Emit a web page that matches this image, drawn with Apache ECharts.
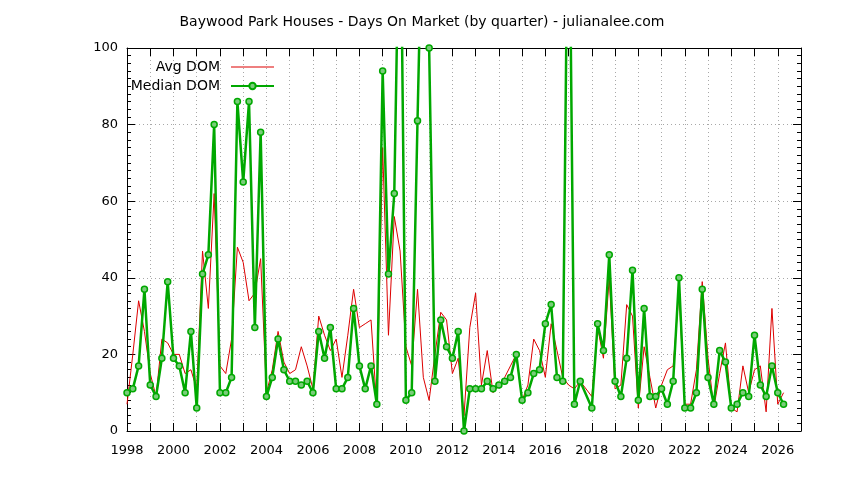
<!DOCTYPE html>
<html>
<head>
<meta charset="utf-8">
<script src="https://cdn.jsdelivr.net/npm/echarts@6/dist/echarts.min.js"></script>
<style>html,body{margin:0;padding:0;background:#fff}#c{width:844px;height:480px}</style>
</head>
<body>
<div id="c"></div>
<script>
const titleText = 'Baywood Park Houses - Days On Market (by quarter) - julianalee.com';
const seriesNames = ['Avg DOM', 'Median DOM'];
const yTicks = [0, 20, 40, 60, 80, 100];
const xTickYears = [1998, 2000, 2002, 2004, 2006, 2008, 2010, 2012, 2014, 2016, 2018, 2020, 2022, 2024, 2026];

const quarters = [
'1998-Q1','1998-Q2','1998-Q3','1998-Q4',
'1999-Q1','1999-Q2','1999-Q3','1999-Q4',
'2000-Q1','2000-Q2','2000-Q3','2000-Q4',
'2001-Q1','2001-Q2','2001-Q3','2001-Q4',
'2002-Q1','2002-Q2','2002-Q3','2002-Q4',
'2003-Q1','2003-Q2','2003-Q3','2003-Q4',
'2004-Q1','2004-Q2','2004-Q3','2004-Q4',
'2005-Q1','2005-Q2','2005-Q3','2005-Q4',
'2006-Q1','2006-Q2','2006-Q3','2006-Q4',
'2007-Q1','2007-Q2','2007-Q3','2007-Q4',
'2008-Q1','2008-Q2','2008-Q3','2008-Q4',
'2009-Q1','2009-Q2','2009-Q3','2009-Q4',
'2010-Q1','2010-Q2','2010-Q3','2010-Q4',
'2011-Q1','2011-Q2','2011-Q3','2011-Q4',
'2012-Q1','2012-Q2','2012-Q3','2012-Q4',
'2013-Q1','2013-Q2','2013-Q3','2013-Q4',
'2014-Q1','2014-Q2','2014-Q3','2014-Q4',
'2015-Q1','2015-Q2','2015-Q3','2015-Q4',
'2016-Q1','2016-Q2','2016-Q3','2016-Q4',
'2017-Q1','2017-Q2','2017-Q3',
'2018-Q1','2018-Q2','2018-Q3','2018-Q4',
'2019-Q1','2019-Q2','2019-Q3','2019-Q4',
'2020-Q1','2020-Q2','2020-Q3','2020-Q4',
'2021-Q1','2021-Q2','2021-Q3','2021-Q4',
'2022-Q1','2022-Q2','2022-Q3','2022-Q4',
'2023-Q1','2023-Q2','2023-Q3','2023-Q4',
'2024-Q1','2024-Q2','2024-Q3','2024-Q4',
'2025-Q1','2025-Q2','2025-Q3','2025-Q4',
'2026-Q1','2026-Q2'
];

const avgDom = [
7, 20, 34, 26,
15, 9, 24, 23,
20, 20, 15, 16,
11, 47, 32, 62,
17, 15, 24, 48,
44, 34, 36, 45,
10, 16, 26, 18,
15, 16, 22, 17,
11, 30, 25, 21,
24, 14, 25, 37,
27, 28, 29, 6,
74, 25, 56, 47,
22, 17, 37, 14,
8, 20, 31, 29,
15, 19, 4, 27,
36, 12, 21, 10,
12, 14, 17, 20,
8, 12, 24, 21,
14, 28, 21, 14,
12, 11, 13,
9, 27, 19, 40,
11, 12, 33, 30,
6, 22, 14, 6,
12, 16, 17, 36,
7, 7, 16, 39,
19, 6, 15, 23,
6, 5, 17, 10,
16, 17, 5, 32,
7, 10
];

const medianDom = [
10, 11, 17, 37,
12, 9, 19, 39,
19, 17, 10, 26,
6, 41, 46, 80,
10, 10, 14, 86,
65, 86, 27, 78,
9, 14, 24, 16,
13, 13, 12, 13,
10, 26, 19, 27,
11, 11, 14, 32,
17, 11, 17, 7,
94, 41, 62, 150,
8, 10, 81, 150,
100, 13, 29, 22,
19, 26, 0, 11,
11, 11, 13, 11,
12, 13, 14, 20,
8, 10, 15, 16,
28, 33, 14, 13,
160, 7, 13,
6, 28, 21, 46,
13, 9, 19, 42,
8, 32, 9, 9,
11, 7, 13, 40,
6, 6, 10, 37,
14, 7, 21, 18,
6, 7, 10, 9,
25, 12, 9, 17,
10, 7
];

function qToYear(q) {
  const parts = q.split('-Q');
  return Number(parts[0]) + (Number(parts[1]) - 1) / 4;
}
const xs = quarters.map(qToYear);
const avgData = xs.map((x, i) => [x, avgDom[i]]);
const medData = xs.map((x, i) => [x, medianDom[i]]);

const FONT = 'DejaVu Sans';
const RED = '#dd0000';
const GREEN = '#00a800';
const chart = echarts.init(document.getElementById('c'), null, {renderer: 'canvas'});
chart.setOption({
  animation: false,
  backgroundColor: '#ffffff',
  title: {
    text: titleText,
    left: 'center',
    top: 10,
    textStyle: {fontFamily: FONT, fontSize: 14, fontWeight: 'normal', color: '#000'}
  },
  legend: {
    orient: 'vertical',
    align: 'right',
    right: 569,
    top: 60,
    padding: 0,
    itemGap: 5,
    itemWidth: 43,
    itemHeight: 8,
    data: [
      {name: seriesNames[0], icon: 'path://M0,0 L43,0 L43,1 L0,1 Z'},
      {name: seriesNames[1]}
    ],
    textStyle: {fontFamily: FONT, fontSize: 14, color: '#000', padding: [0, 6, 0, 0]}
  },
  grid: {left: 127, right: 43, top: 48, bottom: 49, containLabel: false},
  xAxis: [{
    type: 'value', min: 1998, max: 2027, interval: 1, position: 'bottom',
    axisLine: {show: true, onZero: false, lineStyle: {color: '#000', width: 1}},
    axisTick: {show: true, inside: true, length: 8, lineStyle: {color: '#000'}},
    axisLabel: {
      fontFamily: FONT, fontSize: 13, color: '#000', margin: 13,
      formatter: v => (xTickYears.indexOf(v) >= 0 ? String(v) : '')
    },
    splitLine: {show: true, lineStyle: {color: '#a8a8a8', type: [1, 3], width: 1}}
  }, {
    type: 'value', min: 1998, max: 2027, interval: 1, position: 'top',
    axisLine: {show: true, onZero: false, lineStyle: {color: '#000', width: 1}},
    axisTick: {show: true, inside: true, length: 8, lineStyle: {color: '#000'}},
    axisLabel: {show: false},
    splitLine: {show: false}
  }],
  yAxis: [{
    type: 'value', min: yTicks[0], max: yTicks[yTicks.length - 1], interval: 20, position: 'left',
    axisLine: {show: true, onZero: false, lineStyle: {color: '#000', width: 1}},
    axisTick: {show: true, inside: true, length: 8, lineStyle: {color: '#000'}},
    minorTick: {show: true, splitNumber: 10, length: 4, lineStyle: {color: '#000'}},
    axisLabel: {fontFamily: FONT, fontSize: 13, color: '#000', margin: 9},
    splitLine: {show: true, lineStyle: {color: '#a8a8a8', type: [1, 3], width: 1}}
  }, {
    type: 'value', min: yTicks[0], max: yTicks[yTicks.length - 1], interval: 20, position: 'right',
    axisLine: {show: true, onZero: false, lineStyle: {color: '#000', width: 1}},
    axisTick: {show: true, inside: true, length: 8, lineStyle: {color: '#000'}},
    minorTick: {show: true, splitNumber: 10, length: 4, lineStyle: {color: '#000'}},
    axisLabel: {show: false},
    splitLine: {show: false}
  }],
  series: [{
    name: seriesNames[0],
    type: 'line',
    data: avgData,
    xAxisIndex: 0, yAxisIndex: 0,
    symbol: 'none',
    clip: true,
    color: RED,
    itemStyle: {color: RED},
    lineStyle: {color: RED, width: 1},
    z: 2
  }, {
    name: seriesNames[1],
    type: 'line',
    data: medData,
    xAxisIndex: 0, yAxisIndex: 0,
    symbol: 'circle',
    symbolSize: 6,
    showAllSymbol: true,
    clip: true,
    color: GREEN,
    itemStyle: {color: '#7acc7a', borderColor: GREEN, borderWidth: 1.5},
    lineStyle: {color: GREEN, width: 2.5},
    z: 3
  }]
});
</script>
</body>
</html>
